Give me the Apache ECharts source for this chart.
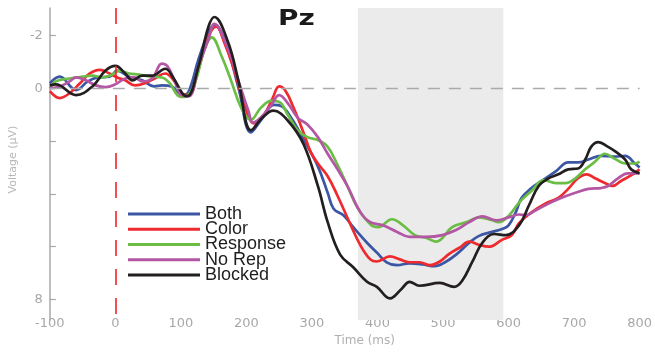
<!DOCTYPE html>
<html>
<head>
<meta charset="utf-8">
<script src="https://cdn.jsdelivr.net/npm/echarts@6/dist/echarts.min.js"></script>
<style>
html, body { margin: 0; padding: 0; background: #fff; }
#chart { width: 655px; height: 352px; }
</style>
</head>
<body>
<div id="chart"></div>
<script>
// Grand-average ERP at electrode Pz, one waveform per condition (negative plotted up)
const seriesNames = ['Both', 'Color', 'Response', 'No Rep', 'Blocked'];

const bothT = [-100,-85,-60,-42,-27,-9,3,21,41,59,71,86,103,112,127,142,151,169,188,207,222,242,253,268,287,309,324,333,348,363,384,399,414,430,449,469,487,505,520,540,555,575,590,600,611,620,635,650,672,691,706,722,741,762,778,793,800];
const bothV = [-0.19,-0.44,0.07,-0.26,-0.41,-0.44,-0.67,-0.44,-0.30,-0.07,-0.11,-0.07,0.26,0.11,-1.11,-2.11,-2.41,-1.67,0.0,1.67,1.22,0.63,0.67,1.11,1.93,2.96,3.96,4.56,4.81,5.26,5.85,6.22,6.59,6.70,6.63,6.67,6.74,6.56,6.30,5.85,5.59,5.44,5.33,5.19,4.70,4.15,3.78,3.52,3.15,2.81,2.81,2.70,2.56,2.59,2.56,2.85,3.0];

const colorT = [-100,-85,-70,-54,-39,-24,-9,3,15,30,45,60,76,89,101,112,127,142,154,166,182,197,212,227,240,250,260,272,287,298,309,324,339,358,374,389,399,419,434,449,464,480,495,510,525,540,555,570,590,605,616,635,656,676,691,706,719,732,747,759,771,787,800];
const colorV = [0.11,0.37,0.19,-0.19,-0.56,-0.70,-0.56,-0.41,-0.30,-0.11,-0.19,-0.37,-0.56,-0.30,0.19,0.26,-0.74,-1.96,-2.33,-1.74,-0.63,0.63,1.33,1.0,0.37,-0.07,0.11,0.74,1.67,2.41,2.85,3.33,4.07,5.12,5.95,6.48,6.56,6.37,6.48,6.59,6.59,6.70,6.56,6.26,6.04,5.81,5.93,6.0,5.74,5.56,5.11,4.70,4.37,4.15,3.81,3.41,3.26,3.41,3.59,3.70,3.52,3.30,3.07];

const responseT = [-100,-91,-70,-50,-35,-20,-5,6,21,36,56,71,83,97,106,121,136,147,162,177,192,207,222,238,250,263,278,293,309,324,339,354,369,389,401,422,439,457,475,490,499,514,536,555,575,585,601,616,635,654,672,687,702,717,732,747,762,778,793,800];
const responseV = [0,-0.26,-0.37,-0.44,-0.48,-0.41,-0.52,-0.67,-0.56,-0.52,-0.44,-0.41,-0.19,0.30,0.33,-0.19,-1.48,-1.93,-1.22,-0.26,0.74,1.19,0.74,0.48,0.52,1.0,1.59,1.85,1.96,2.22,2.90,3.70,4.50,5.15,5.26,4.96,5.19,5.56,5.67,5.81,5.67,5.26,5.07,4.89,5.0,5.07,4.81,4.33,3.89,3.48,3.59,3.59,3.41,3.07,2.78,2.48,2.67,2.85,2.85,2.78];

const noRepT = [-100,-85,-70,-60,-45,-30,-15,0,15,29,41,56,71,79,89,101,112,127,142,151,172,188,203,210,222,238,250,263,278,293,309,324,339,354,374,389,408,430,449,475,499,520,540,560,581,600,616,626,641,661,681,702,722,741,752,767,782,800];
const noRepV = [0,-0.07,-0.26,-0.41,-0.30,-0.11,-0.04,-0.15,-0.37,-0.41,-0.26,-0.37,-0.93,-0.85,-0.37,0.26,0.30,-0.85,-1.85,-2.44,-1.48,-0.26,0.85,1.30,1.11,0.63,0.26,0.56,1.11,1.37,1.85,2.48,3.07,3.70,4.70,5.07,5.19,5.44,5.63,5.63,5.56,5.37,5.07,4.85,5.0,4.89,4.78,4.81,4.63,4.37,4.15,3.96,3.81,3.78,3.70,3.41,3.22,3.22];

const blockedT = [-100,-91,-60,-35,-15,0,14,26,41,56,76,89,103,110,127,142,151,172,188,207,225,241,263,287,309,324,343,363,384,399,419,437,449,464,495,517,529,545,560,578,596,616,631,646,661,676,691,706,717,726,737,752,764,778,787,800];
const blockedV = [-0.11,-0.15,0.26,-0.07,-0.67,-0.85,-0.59,-0.30,-0.48,-0.48,-0.74,-0.37,0.22,0.30,-0.85,-2.33,-2.70,-1.74,-0.26,1.59,1.10,0.85,1.22,2.11,3.70,5.07,6.30,6.78,7.33,7.52,7.96,7.59,7.33,7.48,7.37,7.52,7.30,6.56,5.85,5.52,5.56,5.19,4.44,3.70,3.41,3.26,3.07,3.04,2.70,2.22,2.04,2.22,2.41,2.70,3.07,3.22];

// Analysis window and axis ticks
const windowStart = 370;
const windowEnd = 592;
const xTicks = [-100, 0, 100, 200, 300, 400, 500, 600, 700, 800];
const yTickValues = [-2, 0, 2, 4, 6, 8];
const yLabelValues = [-2, 0, 8];

const times = [bothT, colorT, responseT, noRepT, blockedT];
const values = [bothV, colorV, responseV, noRepV, blockedV];
const colors = ['#3b56a5', '#ee2a2e', '#6bbd46', '#b356a3', '#231f20'];

const grey = '#a8a8a8';

const series = seriesNames.map((name, k) => {
  const s = {
    name: name,
    type: 'line',
    data: times[k].map((t, i) => [t, values[k][i]]),
    smooth: 0.4,
    showSymbol: false,
    lineStyle: { color: colors[k], width: 2.7 },
    itemStyle: { color: colors[k] },
    emphasis: { disabled: true }
  };
  if (k === 0) {
    s.markArea = {
      silent: true,
      itemStyle: { color: '#ebebeb' },
      data: [[{ xAxis: windowStart }, { xAxis: windowEnd }]]
    };
    s.markLine = {
      silent: true,
      symbol: ['none', 'none'],
      label: { show: false },
      data: [
        { yAxis: 0, lineStyle: { color: '#aaaaaa', width: 1.4, type: [12, 9] } },
        { xAxis: 0, lineStyle: { color: '#f2222a', width: 1.6, type: [16, 13] } }
      ]
    };
  }
  return s;
});

const chart = echarts.init(document.getElementById('chart'));
chart.setOption({
  animation: false,
  backgroundColor: '#ffffff',
  grid: { left: 47, right: 13, top: 8, bottom: 25 },
  graphic: [{
    type: 'text',
    left: 278,
    top: 9,
    scaleX: 1.33,
    style: { text: 'Pz', font: 'bold 21px "DejaVu Sans"', fill: '#1a1a1a' }
  }],
  legend: {
    orient: 'vertical',
    left: 128,
    top: 205,
    padding: 0,
    icon: 'rect',
    itemWidth: 72,
    itemHeight: 3,
    itemGap: -2.75,
    selectedMode: false,
    data: seriesNames,
    textStyle: { fontFamily: '"Liberation Sans", Arial', fontSize: 18, color: '#1e1e1e' }
  },
  xAxis: {
    type: 'value',
    min: xTicks[0],
    max: xTicks[xTicks.length - 1],
    interval: 100,
    name: 'Time (ms)',
    nameLocation: 'middle',
    nameGap: 8,
    nameTextStyle: { color: '#b0b0b0', fontSize: 12, fontFamily: '"DejaVu Sans"', padding: [0, 0, 0, 40] },
    axisLine: { show: false },
    axisTick: { show: false },
    splitLine: { show: false },
    axisLabel: { color: grey, fontSize: 13, fontFamily: '"DejaVu Sans"', margin: -3 }
  },
  yAxis: {
    type: 'value',
    inverse: true,
    min: -3.04,
    max: 8.78,
    name: 'Voltage (µV)',
    nameLocation: 'middle',
    nameGap: 25,
    nameTextStyle: { color: '#b8b8b8', fontSize: 11, fontFamily: '"DejaVu Sans"', padding: [0, 0, 0, 9] },
    axisLine: { show: true, onZero: false, lineStyle: { color: '#a8a8a8', width: 1.5 } },
    axisTick: { show: true, inside: true, length: 6, customValues: yTickValues, lineStyle: { color: '#a8a8a8', width: 1.2 } },
    splitLine: { show: false },
    axisLabel: { customValues: yLabelValues, color: grey, fontSize: 13, fontFamily: '"DejaVu Sans"', margin: 7 }
  },
  series: series
});
</script>
</body>
</html>
